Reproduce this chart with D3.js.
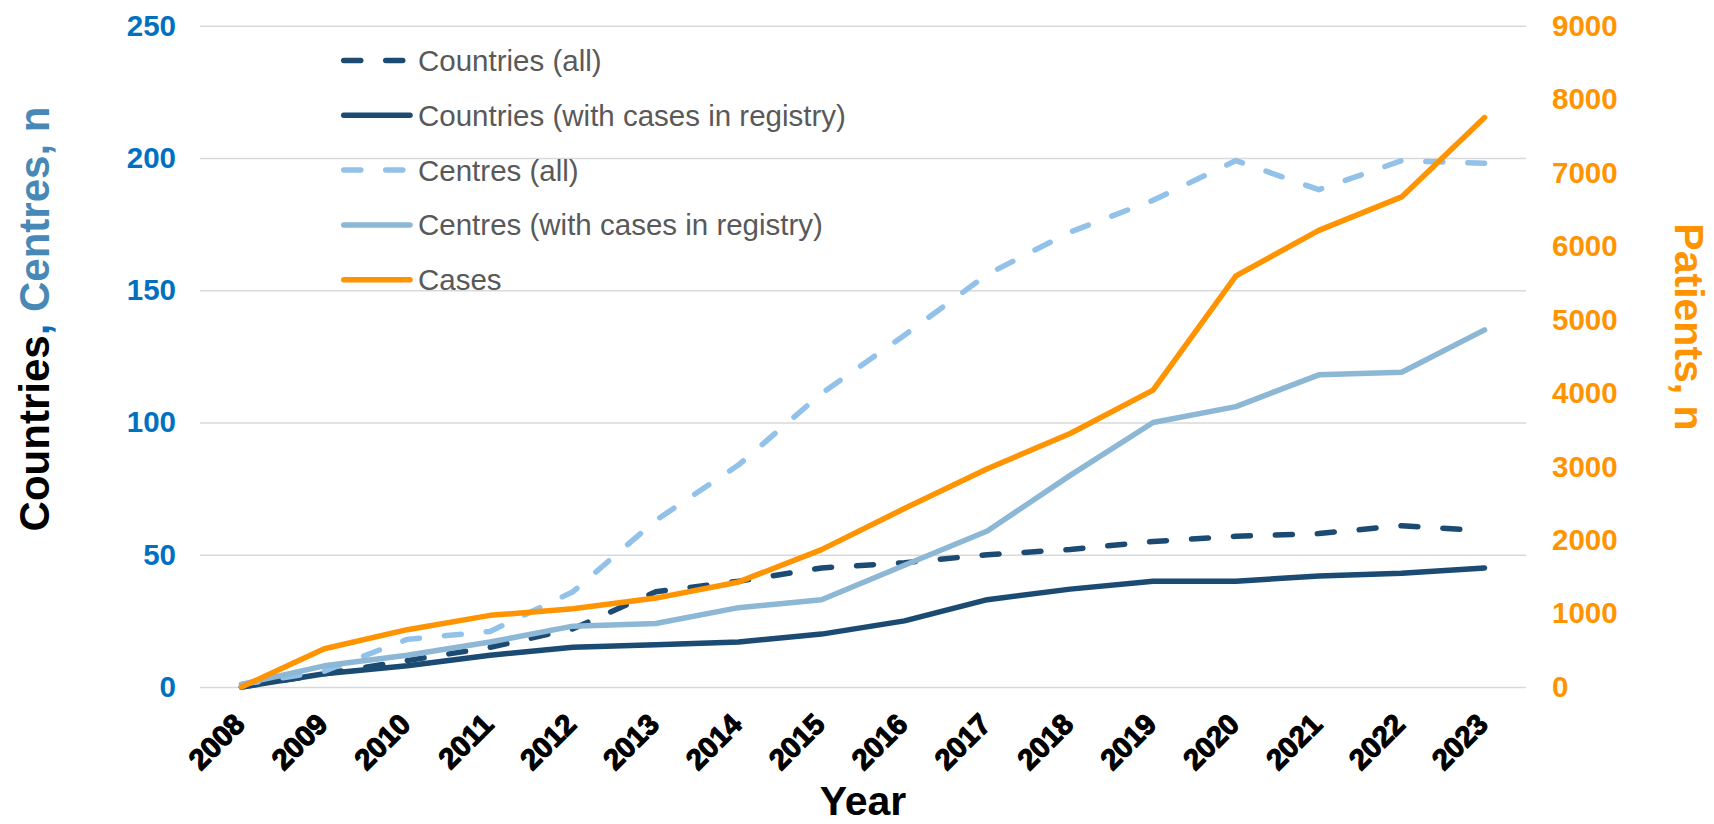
<!DOCTYPE html>
<html>
<head>
<meta charset="utf-8">
<script src="https://cdn.jsdelivr.net/npm/d3@7"></script>
<style>
    body { margin: 0; background: #fff; }
    svg { display: block; font-family: Arial, "Liberation Sans", sans-serif; }
</style>
</head>
<body>
<script>
const years = [2008, 2009, 2010, 2011, 2012, 2013, 2014, 2015, 2016, 2017, 2018, 2019, 2020, 2021, 2022, 2023]
const countriesAll = [0, 5, 10, 15, 22, 36, 40, 45, 47, 50, 52, 55, 57, 58, 61, 59]
const countriesCases = [0, 5, 8, 12, 15, 16, 17, 20, 25, 33, 37, 40, 40, 42, 43, 45]
const centresAll = [1, 6, 18, 21, 36, 63, 84, 111, 133, 156, 172, 184, 199, 188, 199, 198]
const centresCases = [1, 8, 12, 17, 23, 24, 30, 33, 46, 59, 80, 100, 106, 118, 119, 135]
const cases = [0, 520, 780, 975, 1065, 1210, 1430, 1870, 2430, 2970, 3450, 4040, 5595, 6215, 6670, 7750]

const leftTicks = [0, 50, 100, 150, 200, 250]
const rightTicks = [0, 1000, 2000, 3000, 4000, 5000, 6000, 7000, 8000, 9000]

const series = [
    { name: "Countries (all)", values: countriesAll, axis: "left", color: "#1b4a73", dash: "17 25" },
    { name: "Countries (with cases in registry)", values: countriesCases, axis: "left", color: "#1b4a73", dash: null },
    { name: "Centres (all)", values: centresAll, axis: "left", color: "#92c1e9", dash: "17 25" },
    { name: "Centres (with cases in registry)", values: centresCases, axis: "left", color: "#8cb7d5", dash: null },
    { name: "Cases", values: cases, axis: "right", color: "#ff9400", dash: null }
]

const width = 1714
const height = 824
const plot = { left: 200, right: 1526, top: 25.7, bottom: 687 }
const fontFamily = "Arial, 'Liberation Sans', sans-serif"

const x = d3.scalePoint()
    .domain(years)
    .range([plot.left, plot.right])
    .padding(0.5)

const yLeft = d3.scaleLinear().domain([0, 250]).range([plot.bottom, plot.top])
const yRight = d3.scaleLinear().domain([0, 9000]).range([plot.bottom, plot.top])

const svg = d3.select("body")
    .append("svg")
    .attr("width", width)
    .attr("height", height)

// rejilla + eje izquierdo
const gLeft = svg.append("g")
    .attr("transform", `translate(${plot.left} 0)`)
    .call(d3.axisLeft(yLeft)
        .tickValues(leftTicks)
        .tickFormat(d3.format("d"))
        .tickSize(-(plot.right - plot.left))
        .tickPadding(24))

gLeft.select(".domain").remove()
gLeft.selectAll(".tick line")
    .attr("stroke", "#d9d9d9")
    .attr("stroke-width", 1.6)
gLeft.selectAll(".tick text")
    .attr("fill", "#0070c0")
    .attr("font-size", 29.5)
    .attr("font-weight", 700)
    .attr("font-family", fontFamily)

// eje derecho
const gRight = svg.append("g")
    .attr("transform", `translate(${plot.right} 0)`)
    .call(d3.axisRight(yRight)
        .tickValues(rightTicks)
        .tickFormat(d3.format("d"))
        .tickSize(0)
        .tickPadding(26))

gRight.select(".domain").remove()
gRight.selectAll(".tick text")
    .attr("fill", "#ff9400")
    .attr("font-size", 29.5)
    .attr("font-weight", 700)
    .attr("font-family", fontFamily)

// etiquetas de años
svg.append("g")
    .selectAll("text")
    .data(years)
    .join("text")
    .attr("transform", d => `translate(${x(d) + 5} 726) rotate(-45)`)
    .attr("text-anchor", "end")
    .attr("font-size", 29)
    .attr("font-weight", 700)
    .attr("fill", "#000")
    .attr("stroke", "#000")
    .attr("stroke-width", 1.2)
    .text(d => d)

// lineas
const lines = svg.append("g")
    .attr("fill", "none")
    .attr("stroke-width", 5.5)
    .attr("stroke-linecap", "round")
    .attr("stroke-linejoin", "round")

series.forEach(s => {
    const yScale = s.axis === "left" ? yLeft : yRight
    const line = d3.line()
        .x((d, i) => x(years[i]))
        .y(d => yScale(d))
    lines.append("path")
        .datum(s.values)
        .attr("d", line)
        .attr("stroke", s.color)
        .attr("stroke-dasharray", s.dash)
})

// leyenda
const legend = svg.append("g")
    .selectAll("g")
    .data(series)
    .join("g")
    .attr("transform", (d, i) => `translate(341 ${60.5 + i * 54.8})`)

legend.append("line")
    .attr("x1", 2.75)
    .attr("x2", 69)
    .attr("stroke", d => d.color)
    .attr("stroke-width", 5.5)
    .attr("stroke-linecap", "round")
    .attr("stroke-dasharray", d => d.dash)

legend.append("text")
    .attr("x", 77)
    .attr("y", 10.5)
    .attr("font-size", 29.5)
    .attr("fill", "#595959")
    .text(d => d.name)

// titulos de ejes
svg.append("text")
    .attr("x", 863)
    .attr("y", 815)
    .attr("text-anchor", "middle")
    .attr("font-size", 41)
    .attr("font-weight", 700)
    .attr("fill", "#000")
    .text("Year")

const leftTitle = svg.append("text")
    .attr("transform", "translate(49 319) rotate(-90)")
    .attr("text-anchor", "middle")
    .attr("font-size", 42)
    .attr("font-weight", 700)

leftTitle.append("tspan").attr("fill", "#000").text("Countries")
leftTitle.append("tspan").attr("fill", "#0070c0").text(", ")
leftTitle.append("tspan").attr("fill", "#4788b6").text("Centres, n")

svg.append("text")
    .attr("transform", "translate(1675 327) rotate(90)")
    .attr("text-anchor", "middle")
    .attr("font-size", 41)
    .attr("font-weight", 700)
    .attr("fill", "#ff9400")
    .text("Patients, n")
</script>
</body>
</html>
